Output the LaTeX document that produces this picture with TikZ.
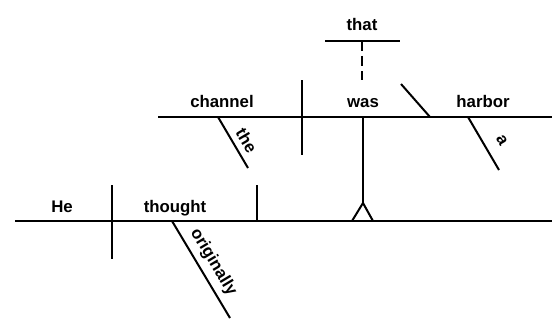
\documentclass[tikz,border=0pt]{standalone}
\usepackage{fontspec}
\setmainfont{Liberation Sans}
\begin{document}
\begin{tikzpicture}[x=1pt,y=-1pt,line width=2pt,
  word/.style={font=\fontsize{16.8}{19}\selectfont\bfseries,inner sep=0pt,anchor=base},
  slantword/.style={font=\fontsize{16.8}{19}\selectfont\bfseries,inner sep=0pt,sloped,above=5.5pt}]
\useasboundingbox (0,0) rectangle (559,329);
% main clause
\coordinate (m0) at (15,221);
\coordinate (m1) at (552,221);
\draw (m0) -- (m1);
\coordinate (s1t) at (112,185);
\coordinate (s1b) at (112,259);
\draw (s1t) -- (s1b);
\coordinate (s2t) at (257,185);
\coordinate (s2b) at (257,221);
\draw (s2t) -- (s2b);
\node[word] (he) at (62,212) {He};
\node[word] (thought) at (175,212) {thought};
\coordinate (o0) at (172,221);
\coordinate (o1) at (230,318);
\draw (o0) -- node[slantword] (originally) {originally} (o1);
% pedestal
\coordinate (pl) at (352,221);
\coordinate (pa) at (363,203);
\coordinate (pr) at (373,221);
\draw[line join=miter] (pl) -- (pa) -- (pr);
\coordinate (stt) at (363,117);
\draw (stt) -- (pa);
% clause
\coordinate (c0) at (158,117);
\coordinate (c1) at (552,117);
\draw (c0) -- (c1);
\coordinate (c2t) at (302,80);
\coordinate (c2b) at (302,155);
\draw (c2t) -- (c2b);
\coordinate (cct) at (401,84);
\coordinate (ccb) at (430,117);
\draw (cct) -- (ccb);
\node[word] (channel) at (222,107) {channel};
\node[word] (was) at (363,107) {was};
\node[word] (harbor) at (483,107) {harbor};
\coordinate (t0) at (218,117);
\coordinate (t1) at (248,168);
\draw (t0) -- node[slantword,pos=0.59] (the) {the} (t1);
\coordinate (a0) at (468,117);
\coordinate (a1) at (499,170);
\draw (a0) -- node[slantword,pos=0.6,above=6.5pt] (a) {a} (a1);
% that
\coordinate (th0) at (325,41);
\coordinate (th1) at (400,41);
\draw (th0) -- (th1);
\node[word] (that) at (362,31) {that};
\coordinate (tm) at (362,41);
\coordinate (tw) at (362,80);
\draw[dash pattern=on 10pt off 5pt] (tm) -- (tw);
\end{tikzpicture}
\end{document}
